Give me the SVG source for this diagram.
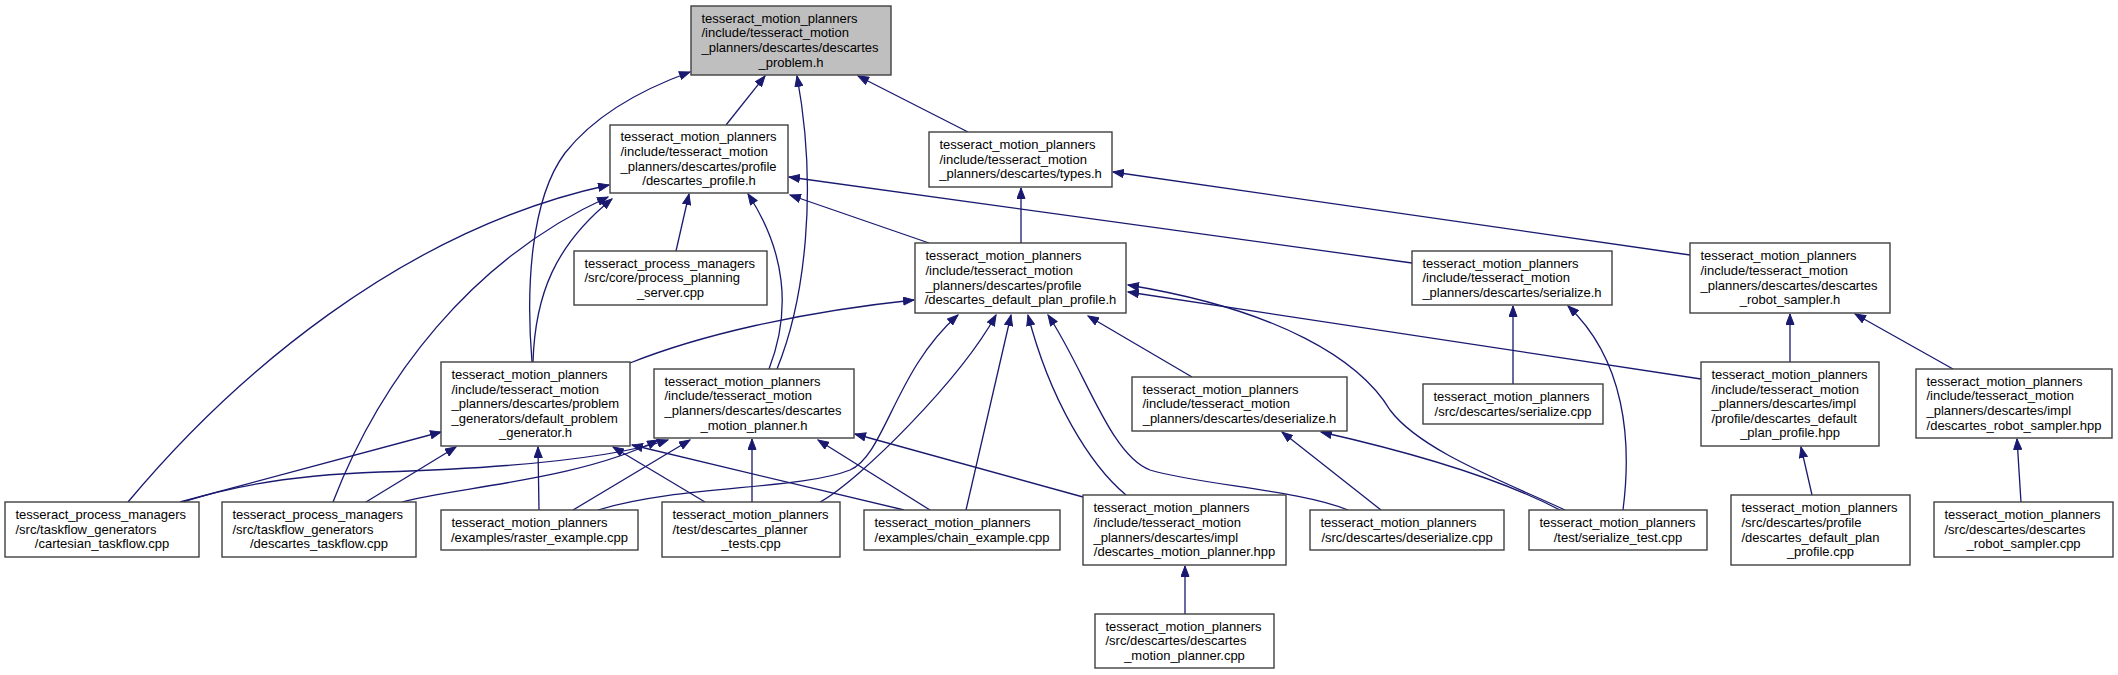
<svg xmlns="http://www.w3.org/2000/svg" width="2118" height="675" viewBox="0 0 2118 675">
<defs>
<style>
.n rect{fill:#ffffff;stroke:#404040;stroke-width:1.4}
.n.root rect{fill:#bfbfbf}
.n text{font-family:"Liberation Sans",Arial,sans-serif;font-size:13px;fill:#000000}
.n text.c{text-anchor:middle}
.e path{fill:none;stroke:#191970;stroke-width:1.3;marker-end:url(#ah)}
</style>
<marker id="ah" markerWidth="12" markerHeight="9" refX="11" refY="4.5" orient="auto" markerUnits="userSpaceOnUse"><path d="M0.5,0.5 L11,4.5 L0.5,8.5 z" fill="#191970" stroke="#191970" stroke-width="1"/></marker>
</defs>
<rect width="2118" height="675" fill="#ffffff"/>
<g id="connectors" class="e">
<path d="M532,362 C526,290 530,200 565,153 C595,115 640,90 690,72"/>
<path d="M726,125 L765,76"/>
<path d="M777,369 C805,300 818,190 797,76"/>
<path d="M968,132 L858,76"/>
<path d="M128,502 C230,380 400,230 609,185"/>
<path d="M333,502 C380,380 470,260 608,197"/>
<path d="M533,362 C535,295 555,245 612,199"/>
<path d="M676,251 L689,194"/>
<path d="M769,369 C792,310 785,250 748,194"/>
<path d="M929,243 L790,195"/>
<path d="M1412,263 L789,177"/>
<path d="M1021,243 L1021,188"/>
<path d="M1690,255 L1113,172"/>
<path d="M630,363 C700,335 800,312 914,300"/>
<path d="M598,510 C680,485 800,490 850,470 C885,455 895,370 958,315"/>
<path d="M820,502 C860,480 960,380 996,315"/>
<path d="M966,510 L1011,315"/>
<path d="M1126,495 C1090,465 1050,400 1028,315"/>
<path d="M1192,377 L1088,316"/>
<path d="M1348,510 C1300,490 1200,485 1150,470 C1110,455 1085,370 1048,315"/>
<path d="M1565,510 C1500,480 1420,450 1390,410 C1360,360 1280,310 1128,285"/>
<path d="M1701,379 L1128,292"/>
<path d="M1381,510 L1282,432"/>
<path d="M1560,510 Q1480,468 1321,432"/>
<path d="M1513,384 L1513,306"/>
<path d="M1623,510 C1632,440 1625,360 1568,306"/>
<path d="M1790,362 L1790,314"/>
<path d="M1953,369 L1855,314"/>
<path d="M1812,495 L1801,447"/>
<path d="M2021,502 L2017,439"/>
<path d="M1185,614 L1185,566"/>
<path d="M1083,497 L855,434"/>
<path d="M180,502 L441,432"/>
<path d="M183,502 C250,480 320,474 380,472 C480,469 600,462 668,440"/>
<path d="M366,502 L456,447"/>
<path d="M402,502 C450,488 580,480 658,440"/>
<path d="M539,510 L538,447"/>
<path d="M573,510 L690,440"/>
<path d="M705,502 L613,447"/>
<path d="M752,502 L752,439"/>
<path d="M904,510 L632,445"/>
<path d="M930,510 L818,440"/>
</g>
<g id="node-root" class="n root">
<rect x="691" y="6" width="200" height="69"/>
<text x="701.5" y="22.8">tesseract_motion_planners</text>
<text x="701.5" y="37.4">/include/tesseract_motion</text>
<text x="701.5" y="52">_planners/descartes/descartes</text>
<text class="c" x="791" y="66.6">_problem.h</text>
</g>
<g id="node-profile" class="n">
<rect x="610" y="125" width="178" height="68"/>
<text x="620.5" y="141.3">tesseract_motion_planners</text>
<text x="620.5" y="155.9">/include/tesseract_motion</text>
<text x="620.5" y="170.5">_planners/descartes/profile</text>
<text class="c" x="699" y="185.1">/descartes_profile.h</text>
</g>
<g id="node-types" class="n">
<rect x="929" y="132" width="183" height="55"/>
<text x="939.5" y="149.1">tesseract_motion_planners</text>
<text x="939.5" y="163.7">/include/tesseract_motion</text>
<text class="c" x="1020.5" y="178.3">_planners/descartes/types.h</text>
</g>
<g id="node-pps" class="n">
<rect x="574" y="251" width="193" height="54"/>
<text x="584.5" y="267.6">tesseract_process_managers</text>
<text x="584.5" y="282.2">/src/core/process_planning</text>
<text class="c" x="670.5" y="296.8">_server.cpp</text>
</g>
<g id="node-dpp-h" class="n">
<rect x="915" y="243" width="211" height="70"/>
<text x="925.5" y="260.3">tesseract_motion_planners</text>
<text x="925.5" y="274.9">/include/tesseract_motion</text>
<text x="925.5" y="289.5">_planners/descartes/profile</text>
<text class="c" x="1020.5" y="304.1">/descartes_default_plan_profile.h</text>
</g>
<g id="node-serialize-h" class="n">
<rect x="1412" y="251" width="200" height="54"/>
<text x="1422.5" y="267.6">tesseract_motion_planners</text>
<text x="1422.5" y="282.2">/include/tesseract_motion</text>
<text class="c" x="1512" y="296.8">_planners/descartes/serialize.h</text>
</g>
<g id="node-rs-h" class="n">
<rect x="1690" y="243" width="200" height="70"/>
<text x="1700.5" y="260.3">tesseract_motion_planners</text>
<text x="1700.5" y="274.9">/include/tesseract_motion</text>
<text x="1700.5" y="289.5">_planners/descartes/descartes</text>
<text class="c" x="1790" y="304.1">_robot_sampler.h</text>
</g>
<g id="node-dpg" class="n">
<rect x="441" y="362" width="189" height="84"/>
<text x="451.5" y="379">tesseract_motion_planners</text>
<text x="451.5" y="393.6">/include/tesseract_motion</text>
<text x="451.5" y="408.2">_planners/descartes/problem</text>
<text x="451.5" y="422.8">_generators/default_problem</text>
<text class="c" x="535.5" y="437.4">_generator.h</text>
</g>
<g id="node-mp-h" class="n">
<rect x="654" y="369" width="200" height="69"/>
<text x="664.5" y="385.8">tesseract_motion_planners</text>
<text x="664.5" y="400.4">/include/tesseract_motion</text>
<text x="664.5" y="415">_planners/descartes/descartes</text>
<text class="c" x="754" y="429.6">_motion_planner.h</text>
</g>
<g id="node-deserialize-h" class="n">
<rect x="1132" y="377" width="215" height="54"/>
<text x="1142.5" y="393.6">tesseract_motion_planners</text>
<text x="1142.5" y="408.2">/include/tesseract_motion</text>
<text class="c" x="1239.5" y="422.8">_planners/descartes/deserialize.h</text>
</g>
<g id="node-serialize-cpp" class="n">
<rect x="1423" y="384" width="180" height="40"/>
<text x="1433.5" y="400.9">tesseract_motion_planners</text>
<text class="c" x="1513" y="415.5">/src/descartes/serialize.cpp</text>
</g>
<g id="node-dpp-hpp" class="n">
<rect x="1701" y="362" width="178" height="84"/>
<text x="1711.5" y="379">tesseract_motion_planners</text>
<text x="1711.5" y="393.6">/include/tesseract_motion</text>
<text x="1711.5" y="408.2">_planners/descartes/impl</text>
<text x="1711.5" y="422.8">/profile/descartes_default</text>
<text class="c" x="1790" y="437.4">_plan_profile.hpp</text>
</g>
<g id="node-rs-hpp" class="n">
<rect x="1916" y="369" width="196" height="69"/>
<text x="1926.5" y="385.8">tesseract_motion_planners</text>
<text x="1926.5" y="400.4">/include/tesseract_motion</text>
<text x="1926.5" y="415">_planners/descartes/impl</text>
<text class="c" x="2014" y="429.6">/descartes_robot_sampler.hpp</text>
</g>
<g id="node-cartesian" class="n">
<rect x="5" y="502" width="194" height="55"/>
<text x="15.5" y="519.1">tesseract_process_managers</text>
<text x="15.5" y="533.7">/src/taskflow_generators</text>
<text class="c" x="102" y="548.3">/cartesian_taskflow.cpp</text>
</g>
<g id="node-descartes-taskflow" class="n">
<rect x="222" y="502" width="194" height="55"/>
<text x="232.5" y="519.1">tesseract_process_managers</text>
<text x="232.5" y="533.7">/src/taskflow_generators</text>
<text class="c" x="319" y="548.3">/descartes_taskflow.cpp</text>
</g>
<g id="node-raster" class="n">
<rect x="441" y="510" width="197" height="40"/>
<text x="451.5" y="526.9">tesseract_motion_planners</text>
<text class="c" x="539.5" y="541.5">/examples/raster_example.cpp</text>
</g>
<g id="node-planner-tests" class="n">
<rect x="662" y="502" width="178" height="55"/>
<text x="672.5" y="519.1">tesseract_motion_planners</text>
<text x="672.5" y="533.7">/test/descartes_planner</text>
<text class="c" x="751" y="548.3">_tests.cpp</text>
</g>
<g id="node-chain" class="n">
<rect x="864" y="510" width="196" height="40"/>
<text x="874.5" y="526.9">tesseract_motion_planners</text>
<text class="c" x="962" y="541.5">/examples/chain_example.cpp</text>
</g>
<g id="node-mp-hpp" class="n">
<rect x="1083" y="495" width="203" height="70"/>
<text x="1093.5" y="512.3">tesseract_motion_planners</text>
<text x="1093.5" y="526.9">/include/tesseract_motion</text>
<text x="1093.5" y="541.5">_planners/descartes/impl</text>
<text class="c" x="1184.5" y="556.1">/descartes_motion_planner.hpp</text>
</g>
<g id="node-deserialize-cpp" class="n">
<rect x="1310" y="510" width="194" height="40"/>
<text x="1320.5" y="526.9">tesseract_motion_planners</text>
<text class="c" x="1407" y="541.5">/src/descartes/deserialize.cpp</text>
</g>
<g id="node-serialize-test" class="n">
<rect x="1529" y="510" width="178" height="40"/>
<text x="1539.5" y="526.9">tesseract_motion_planners</text>
<text class="c" x="1618" y="541.5">/test/serialize_test.cpp</text>
</g>
<g id="node-dpp-cpp" class="n">
<rect x="1731" y="495" width="179" height="70"/>
<text x="1741.5" y="512.3">tesseract_motion_planners</text>
<text x="1741.5" y="526.9">/src/descartes/profile</text>
<text x="1741.5" y="541.5">/descartes_default_plan</text>
<text class="c" x="1820.5" y="556.1">_profile.cpp</text>
</g>
<g id="node-rs-cpp" class="n">
<rect x="1934" y="502" width="179" height="55"/>
<text x="1944.5" y="519.1">tesseract_motion_planners</text>
<text x="1944.5" y="533.7">/src/descartes/descartes</text>
<text class="c" x="2023.5" y="548.3">_robot_sampler.cpp</text>
</g>
<g id="node-mp-cpp" class="n">
<rect x="1095" y="614" width="179" height="54"/>
<text x="1105.5" y="630.6">tesseract_motion_planners</text>
<text x="1105.5" y="645.2">/src/descartes/descartes</text>
<text class="c" x="1184.5" y="659.8">_motion_planner.cpp</text>
</g>
</svg>
